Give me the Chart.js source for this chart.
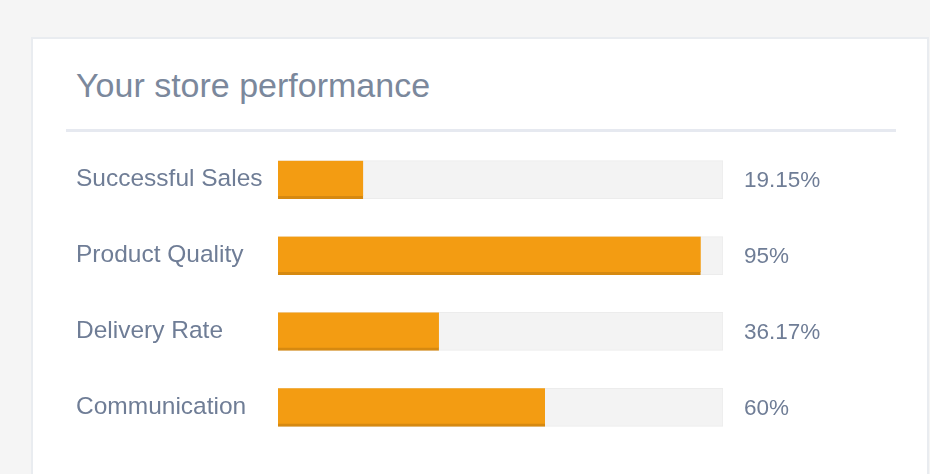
<!DOCTYPE html>
<html>
<head>
<meta charset="utf-8">
<script src="https://cdn.jsdelivr.net/npm/chart.js@4/dist/chart.umd.min.js"></script>
<style>
  html, body { margin: 0; padding: 0; width: 930px; height: 474px; overflow: hidden; background: #f5f5f5; }
  #card { position: absolute; left: 31px; top: 37px; width: 894px; height: 450px; background: #fff; border: 2px solid #e9ecf0; }
  #title { position: absolute; left: 76px; top: 65px; font-family: "Liberation Sans", Arial, sans-serif; font-size: 34px; color: #7b889c; line-height: 40px; white-space: nowrap; }
  #sep { position: absolute; left: 66px; top: 129px; width: 830px; height: 3px; background: #e6e9f0; }
  #wrap { position: absolute; left: 76px; top: 127px; width: 824px; height: 333px; }
</style>
</head>
<body>
<div id="card"></div>
<div id="title">Your store performance</div>
<div id="sep"></div>
<div id="wrap"><canvas id="c"></canvas></div>
<script>
const categories = ["Successful Sales", "Product Quality", "Delivery Rate", "Communication"];
const values = [19.15, 95, 36.17, 60];
const valueLabels = ["19.15%", "95%", "36.17%", "60%"];
const trackValues = [100, 100, 100, 100];

const valueLabelPlugin = {
  id: 'valueLabels',
  afterDatasetsDraw(chart) {
    const ctx = chart.ctx;
    const meta = chart.getDatasetMeta(1);
    ctx.save();
    ctx.font = '22.5px "Liberation Sans", Arial, sans-serif';
    ctx.fillStyle = '#6f7d96';
    ctx.textBaseline = 'middle';
    ctx.textAlign = 'left';
    meta.data.forEach((bar, i) => {
      ctx.fillText(valueLabels[i], chart.chartArea.right + 21, bar.y + 1);
    });
    ctx.restore();
  }
};

new Chart(document.getElementById('c'), {
  type: 'bar',
  data: {
    labels: categories,
    datasets: [
      {
        data: trackValues,
        backgroundColor: '#f3f3f3',
        borderColor: '#ececec',
        borderWidth: 1,
        borderSkipped: false,
        barThickness: 38,
        grouped: false,
        order: 2
      },
      {
        data: values,
        backgroundColor: '#f39c12',
        borderColor: '#d68910',
        borderWidth: { top: 0, left: 0, right: 0, bottom: 3 },
        borderSkipped: false,
        barThickness: 38,
        grouped: false,
        order: 1
      }
    ]
  },
  plugins: [valueLabelPlugin],
  options: {
    indexAxis: 'y',
    responsive: true,
    maintainAspectRatio: false,
    animation: false,
    layout: { padding: { left: 0, right: 177, top: 0, bottom: 0 } },
    plugins: { legend: { display: false }, tooltip: { enabled: false }, title: { display: false } },
    scales: {
      x: { min: 0, max: 100, display: false },
      y: {
        grid: { display: false },
        border: { display: false },
        ticks: {
          crossAlign: 'far',
          color: '#6f7d96',
          font: { family: '"Liberation Sans", Arial, sans-serif', size: 24.5 },
          padding: 0
        },
        afterFit(scale) { scale.width = 202; }
      }
    }
  }
});
</script>
</body>
</html>
